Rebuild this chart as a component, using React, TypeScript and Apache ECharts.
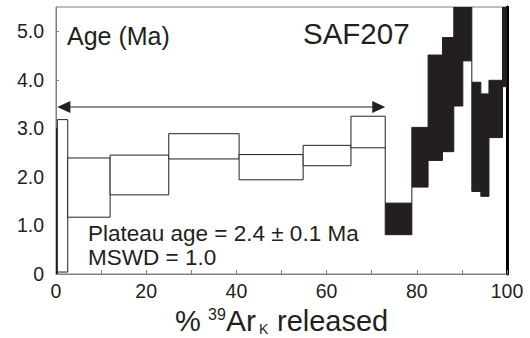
import React, { useEffect, useRef } from 'react';
import * as echarts from 'echarts';

// Step-heating data (cumulative % 39ArK released, age range in Ma, 2 sigma)
const stepStart = [0, 0.3, 2.6, 12.0, 25.0, 40.6, 54.8, 65.4, 73.0, 78.9, 82.5, 85.7, 88.2, 90.2, 92.2, 94.2, 96.0, 99.0];
const stepEnd = [0.3, 2.6, 12.0, 25.0, 40.6, 54.8, 65.4, 73.0, 78.9, 82.5, 85.7, 88.2, 90.2, 92.2, 94.2, 96.0, 99.0, 100];
const ageLow = [0, 0.04, 1.17, 1.63, 2.37, 1.94, 2.23, 2.60, 0.81, 1.79, 2.34, 2.52, 3.46, 4.39, 1.70, 1.60, 2.81, 3.86];
const ageHigh = [2.99, 3.18, 2.39, 2.45, 2.89, 2.46, 2.65, 3.25, 1.46, 3.02, 4.51, 4.87, 6.0, 6.0, 3.95, 3.71, 3.99, 6.5];
const inPlateau = [0, 1, 1, 1, 1, 1, 1, 1, 0, 0, 0, 0, 0, 0, 0, 0, 0, 0];

// Plateau arrow
const plateauFrom = 0.3;
const plateauTo = 73.0;
const arrowAge = 3.44;

// Axes
const xMin = 0;
const xMax = 100;
const xInterval = 10;
const yMin = 0;
const yMax = 5.5;
const yInterval = 1;

const sampleName = 'SAF207';
const yTitle = 'Age (Ma)';
const plateauText = ['Plateau age = 2.4 ± 0.1 Ma', 'MSWD = 1.0'];

const FONT = '"Liberation Sans", Arial, Helvetica, sans-serif';
const INK = '#231f20';
const GREY = '#808080';

export default function App() {
  const ref = useRef<HTMLDivElement>(null);

  useEffect(() => {
    if (!ref.current) return;
    const chart = echarts.init(ref.current, null, { renderer: 'svg' });

    const stepData = stepStart.map((s, i) => [s, stepEnd[i], ageLow[i], ageHigh[i], inPlateau[i]]);

    const txt = (text: string, x: number, y: number, size: number) => ({
      type: 'text',
      x,
      y,
      silent: true,
      style: {
        text,
        fontSize: size,
        fontFamily: FONT,
        fill: INK,
        align: 'left',
        verticalAlign: 'middle',
        textAlign: 'left',
        textVerticalAlign: 'middle',
      },
    });

    const option: any = {
      animation: false,
      backgroundColor: '#ffffff',
      grid: {
        left: 56,
        right: 23,
        top: 7,
        bottom: 64,
        show: true,
        borderColor: GREY,
        borderWidth: 1,
        containLabel: false,
        outerBoundsMode: 'none',
      },
      xAxis: {
        type: 'value',
        min: xMin,
        max: xMax,
        interval: xInterval,
        axisLine: { show: true, lineStyle: { color: GREY, width: 1 } },
        axisTick: { show: true, inside: true, length: 4, lineStyle: { color: GREY } },
        axisLabel: {
          fontSize: 19.5,
          fontFamily: FONT,
          color: INK,
          margin: 7,
          formatter: (v: number) => (v % 20 === 0 ? String(v) : ''),
        },
        splitLine: { show: false },
      },
      yAxis: [
        {
          type: 'value',
          min: yMin,
          max: yMax,
          interval: yInterval,
          axisLine: { show: true, lineStyle: { color: GREY, width: 1 } },
          axisTick: { show: true, inside: true, length: 3, lineStyle: { color: GREY } },
          axisLabel: {
            fontSize: 19.5,
            fontFamily: FONT,
            color: INK,
            margin: 12,
            showMaxLabel: false,
            formatter: (v: number) => (v === 0 ? '0' : v > 5.25 ? '' : v.toFixed(1)),
          },
          splitLine: { show: false },
        },
        {
          type: 'value',
          position: 'right',
          min: yMin,
          max: yMax,
          interval: yInterval,
          axisLine: { show: true, lineStyle: { color: '#000000', width: 3 } },
          axisTick: { show: false },
          axisLabel: { show: false },
          splitLine: { show: false },
        },
      ],
      series: [
        {
          type: 'custom',
          clip: true,
          silent: true,
          data: stepData,
          renderItem: (params: any, api: any) => {
            const i = params.dataIndex;
            const x0 = api.value(0);
            const x1 = api.value(1);
            const lo = api.value(2);
            const hi = api.value(3);
            const plat = api.value(4);
            const a = api.coord([x0, Math.min(hi, yMax + 0.2)]);
            const b = api.coord([x1, Math.max(lo, yMin)]);
            const children: any[] = [
              {
                type: 'rect',
                shape: { x: a[0], y: a[1], width: b[0] - a[0], height: b[1] - a[1] },
                style: { fill: plat ? '#ffffff' : INK, stroke: INK, lineWidth: 1 },
              },
            ];
            if (i > 0) {
              const pl = ageLow[i - 1];
              const ph = ageHigh[i - 1];
              let from: number | null = null;
              let to: number | null = null;
              if (ph < lo) { from = ph; to = lo; }
              else if (pl > hi) { from = hi; to = pl; }
              if (from !== null && to !== null) {
                const p = api.coord([x0, from]);
                const q = api.coord([x0, to]);
                children.push({
                  type: 'line',
                  shape: { x1: p[0], y1: p[1], x2: q[0], y2: q[1] },
                  style: { stroke: INK, lineWidth: 1 },
                });
              }
            }
            return { type: 'group', children };
          },
        },
        {
          type: 'custom',
          clip: false,
          silent: true,
          data: [[plateauFrom, plateauTo, arrowAge]],
          renderItem: (_params: any, api: any) => {
            const p = api.coord([api.value(0), api.value(2)]);
            const q = api.coord([api.value(1), api.value(2)]);
            const hl = 13;
            const hw = 6;
            return {
              type: 'group',
              children: [
                {
                  type: 'line',
                  shape: { x1: p[0] + 4, y1: p[1], x2: q[0] - 4, y2: q[1] },
                  style: { stroke: INK, lineWidth: 1 },
                },
                {
                  type: 'polygon',
                  shape: { points: [[p[0], p[1]], [p[0] + hl, p[1] - hw], [p[0] + hl, p[1] + hw]] },
                  style: { fill: INK },
                },
                {
                  type: 'polygon',
                  shape: { points: [[q[0], q[1]], [q[0] - hl, q[1] - hw], [q[0] - hl, q[1] + hw]] },
                  style: { fill: INK },
                },
              ],
            };
          },
        },
      ],
      graphic: [
        txt(yTitle, 67, 36.3, 25),
        txt(sampleName, 303, 33.8, 29.5),
        txt(plateauText[0], 88, 233.9, 22.5),
        txt(plateauText[1], 88, 257.2, 22.5),
        txt('%', 175, 320.5, 29),
        txt('39', 208, 314, 16),
        txt('Ar', 226, 320.5, 30),
        txt('K', 259, 329, 14),
        txt('released', 277, 320.5, 29),
      ],
    };

    chart.setOption(option);
    return () => chart.dispose();
  }, []);

  return (
    <div
      ref={ref}
      style={{ position: 'absolute', left: 0, top: 0, width: 530, height: 338, background: '#fff' }}
    />
  );
}
